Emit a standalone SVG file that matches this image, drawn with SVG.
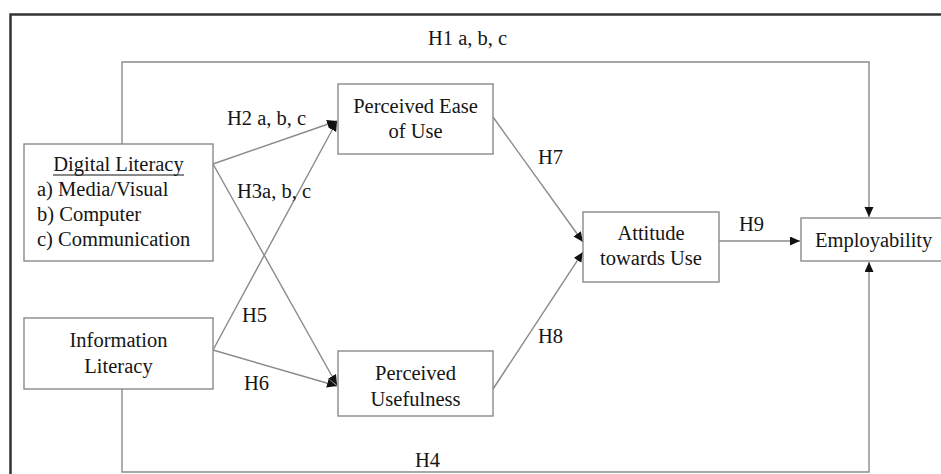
<svg xmlns="http://www.w3.org/2000/svg" width="941" height="474" viewBox="0 0 941 474">
<defs>
<marker id="arr" markerUnits="userSpaceOnUse" markerWidth="11" markerHeight="10" refX="10" refY="4.5" orient="auto">
<path d="M0,0 L10,4.5 L0,9 z" fill="#111"/>
</marker>
<style>
.box{fill:#fff;stroke:#8a8a8a;stroke-width:1.4}
.t{font-family:"Liberation Serif","Times New Roman",serif;font-size:20.5px;fill:#151515}
.c{text-anchor:middle}
.ln{fill:none;stroke:#8a8a8a;stroke-width:1.4}
</style>
</defs>
<rect width="941" height="474" fill="#fff"/>
<path d="M10.5,474 L10.5,14.5 L941,14.5" fill="none" stroke="#333" stroke-width="2.5"/>
<g id="connectors">
<polyline class="ln" points="122,144 122,62 869,62 869,217" marker-end="url(#arr)"/>
<line class="ln" x1="213" y1="164" x2="337" y2="121" marker-end="url(#arr)"/>
<line class="ln" x1="213" y1="164" x2="337" y2="385" marker-end="url(#arr)"/>
<line class="ln" x1="213" y1="350" x2="337" y2="121" marker-end="url(#arr)"/>
<line class="ln" x1="213" y1="350" x2="337" y2="386" marker-end="url(#arr)"/>
<line class="ln" x1="493" y1="117" x2="583" y2="242" marker-end="url(#arr)"/>
<line class="ln" x1="493" y1="389" x2="583" y2="252" marker-end="url(#arr)"/>
<line class="ln" x1="719" y1="241" x2="800" y2="241" marker-end="url(#arr)"/>
<polyline class="ln" points="122,389 122,472 869,472 869,262" marker-end="url(#arr)"/>
<text class="t" x="428" y="45">H1 a, b, c</text>
<text class="t" x="227" y="125">H2 a, b, c</text>
<text class="t" x="237" y="198">H3a, b, c</text>
<text class="t" x="242" y="322">H5</text>
<text class="t" x="244" y="390">H6</text>
<text class="t" x="538" y="164">H7</text>
<text class="t" x="538" y="343">H8</text>
<text class="t" x="739" y="231">H9</text>
<text class="t" x="415" y="467">H4</text>
</g>
<g id="digital-literacy">
<rect class="box" x="24" y="144" width="189" height="117"/>
<text class="t c" x="118.5" y="171">Digital Literacy</text>
<line x1="53" y1="175" x2="184" y2="175" stroke="#151515" stroke-width="1.2"/>
<text class="t" x="37" y="196">a) Media/Visual</text>
<text class="t" x="37" y="221">b) Computer</text>
<text class="t" x="37" y="246">c) Communication</text>
</g>
<g id="information-literacy">
<rect class="box" x="24" y="318" width="189" height="71"/>
<text class="t c" x="118.5" y="347">Information</text>
<text class="t c" x="118.5" y="373">Literacy</text>
</g>
<g id="perceived-ease">
<rect class="box" x="338" y="84" width="155" height="70"/>
<text class="t c" x="415.5" y="113">Perceived Ease</text>
<text class="t c" x="415.5" y="138">of Use</text>
</g>
<g id="perceived-usefulness">
<rect class="box" x="338" y="351" width="155" height="65"/>
<text class="t c" x="415.5" y="380">Perceived</text>
<text class="t c" x="415.5" y="406">Usefulness</text>
</g>
<g id="attitude">
<rect class="box" x="583" y="212" width="136" height="70"/>
<text class="t c" x="651" y="240">Attitude</text>
<text class="t c" x="651" y="265">towards Use</text>
</g>
<g id="employability">
<rect class="box" x="801" y="218" width="160" height="43"/>
<text class="t" x="815" y="247">Employability</text>
</g>
</svg>
